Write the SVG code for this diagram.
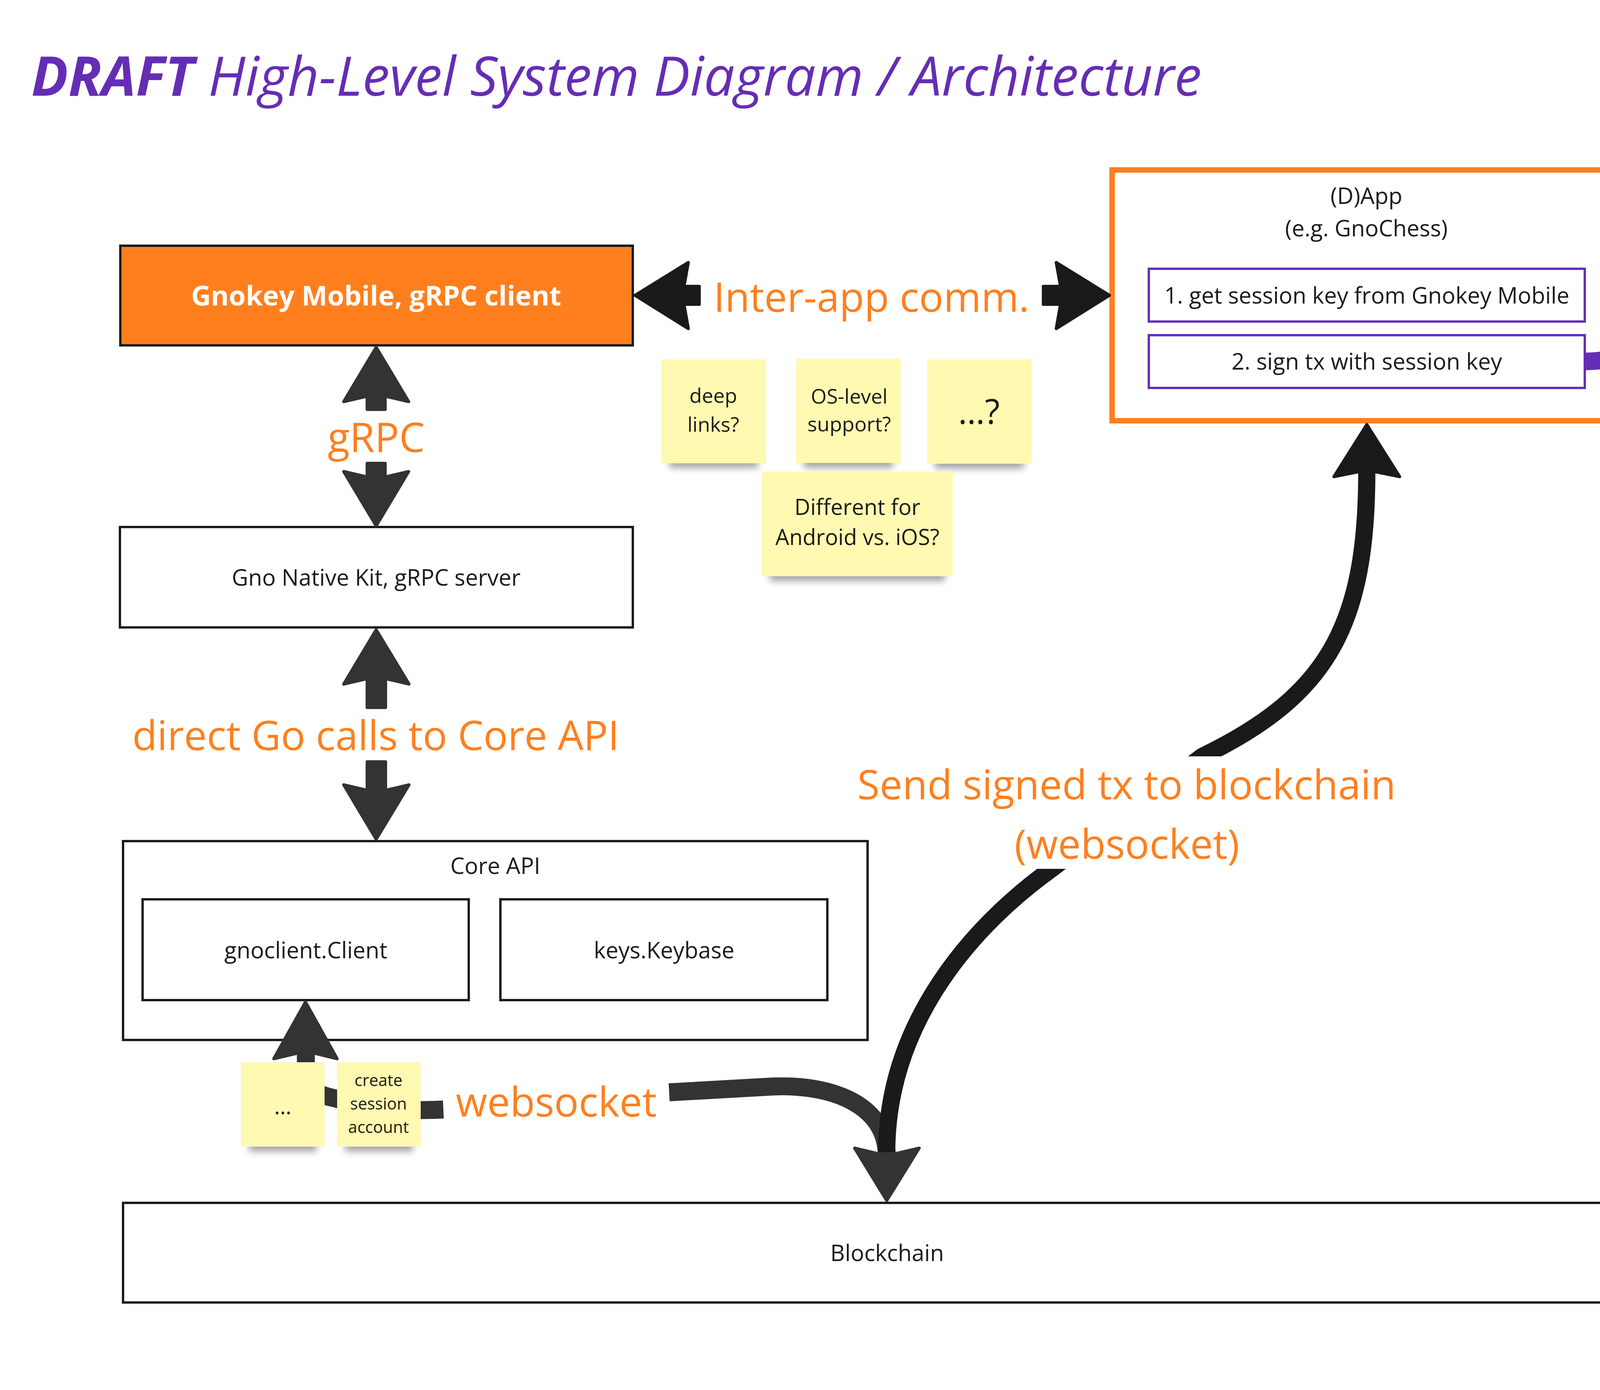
<svg xmlns="http://www.w3.org/2000/svg" width="4495" height="3558" viewBox="0 0 4495 3558">
<defs>
<style>
text{font-family:"Open Sans","Noto Sans","DejaVu Sans",sans-serif}
.box{fill:#ffffff;stroke:#1a1a1a;stroke-width:6}
.sub{fill:#ffffff;stroke:#6530b5;stroke-width:6}
.t{font-size:58px;fill:#1a1a1a;text-anchor:middle}
.lbl{font-size:104px;fill:#ff7f1e;text-anchor:middle}
.note{fill:#fff9b1}
.nt{fill:#1a1a1a;text-anchor:middle}
.n52{font-size:52px}
.n56{font-size:56px}
.n42{font-size:42px}
.n88{font-size:88px}
.shd{fill:#000000;opacity:0.35}
.head{stroke-linejoin:round;stroke-width:8}
.dk{fill:#333333;stroke:#333333}
.bk{fill:#1a1a1a;stroke:#1a1a1a}
</style>
<filter id="sh" x="-20%" y="-150%" width="140%" height="400%"><feGaussianBlur stdDeviation="9"/></filter>
</defs>
<rect x="0" y="0" width="4495" height="3558" fill="#ffffff"/>

<g id="title">
<text x="80" y="245" font-size="140" font-style="italic" fill="#652db4"><tspan font-weight="bold">DRAFT</tspan> High-Level System Diagram / Architecture</text>
</g>

<g id="gnokey-mobile">
<rect x="308" y="629" width="1312" height="255" fill="#ff7f1e" stroke="#1a1a1a" stroke-width="6"/>
<text x="963" y="782" font-size="70" font-weight="bold" fill="#ffffff" text-anchor="middle">Gnokey Mobile, gRPC client</text>
</g>

<g id="gno-native-kit">
<rect class="box" x="307" y="1349" width="1313" height="257"/>
<text class="t" x="963" y="1499">Gno Native Kit, gRPC server</text>
</g>

<g id="core-api">
<rect class="box" x="315" y="2153" width="1906" height="509"/>
<text class="t" x="1268" y="2237">Core API</text>
</g>
<g id="gnoclient">
<rect class="box" x="365" y="2302" width="835" height="258"/>
<text class="t" x="783" y="2453">gnoclient.Client</text>
</g>
<g id="keybase">
<rect class="box" x="1281" y="2302" width="837" height="258"/>
<text class="t" x="1700" y="2453">keys.Keybase</text>
</g>

<g id="blockchain">
<rect class="box" x="315" y="3079" width="3911" height="255"/>
<text class="t" x="2271" y="3228">Blockchain</text>
</g>

<g id="dapp">
<rect x="2847" y="435" width="1304" height="642" fill="none" stroke="#ff7f1e" stroke-width="14"/>
<text class="t" x="3498" y="522">(D)App</text>
<text class="t" x="3498" y="605">(e.g. GnoChess)</text>
</g>
<g id="dapp-step1">
<rect class="sub" x="2941" y="688" width="1116" height="135"/>
<text class="t" x="3499" y="777">1. get session key from Gnokey Mobile</text>
</g>
<g id="dapp-step2">
<rect class="sub" x="2941" y="858" width="1116" height="135"/>
<text class="t" x="3499" y="946">2. sign tx with session key</text>
</g>

<g id="connectors">
<!-- inter-app comm -->
<path class="head bk" d="M1626 756 L1762 672 L1751 733 L1790 733 L1790 779 L1751 779 L1762 841 Z"/>
<path class="head bk" d="M2840 756 L2704 672 L2715 733 L2671 733 L2671 779 L2715 779 L2704 841 Z"/>
<!-- gRPC -->
<path class="head dk" d="M963 889 L1046 1028 L986 1014 L986 1048 L940 1048 L940 1014 L880 1028 Z"/>
<path class="head dk" d="M963 1346 L1046 1207 L986 1221 L986 1186 L940 1186 L940 1221 L880 1207 Z"/>
<!-- direct Go calls -->
<path class="head dk" d="M963 1612 L1047 1751 L987 1737 L987 1811 L940 1811 L940 1737 L880 1751 Z"/>
<path class="head dk" d="M963 2148 L1047 2009 L987 2023 L987 1950 L940 1950 L940 2023 L880 2009 Z"/>
<!-- websocket (gnoclient to blockchain) -->
<path d="M783 2694 L783 2740 C783 2790 805 2800 860 2812 C930 2836 1000 2846 1135 2840" fill="none" stroke="#333333" stroke-width="46"/>
<path d="M1713 2796 L1980 2781 C2150 2775 2268 2840 2270 2955" fill="none" stroke="#333333" stroke-width="46"/>
<!-- send signed tx -->
<path d="M3499 1205 C3499 1600 3400 1780 3078 1936 L2692 2224 C2450 2400 2270 2650 2270 2950" fill="none" stroke="#1a1a1a" stroke-width="44"/>
<path class="head bk" d="M3499 1087 L3583 1220 L3523 1208 L3475 1208 L3415 1220 Z"/>
<path class="head dk" d="M782 2565 L863 2710 L806 2696 L760 2696 L701 2710 Z"/>
<path class="head dk" d="M2270 3073 L2353 2939 L2293 2953 L2247 2953 L2188 2939 Z"/>
<!-- purple link -->
<path d="M4058 925 C4250 925 4360 790 4510 450" fill="none" stroke="#652db4" stroke-width="45"/>
</g>

<g id="label-inter-app">
<text class="lbl" x="2231" y="798">Inter-app comm.</text>
</g>
<g id="label-grpc">
<text class="lbl" x="963" y="1157">gRPC</text>
</g>
<g id="label-direct">
<text class="lbl" x="962" y="1920">direct Go calls to Core API</text>
</g>
<g id="label-websocket">
<text class="lbl" x="1424" y="2858">websocket</text>
</g>
<g id="label-send">
<rect x="2170" y="1936" width="1430" height="134" fill="#ffffff"/>
<rect x="2580" y="2070" width="610" height="154" fill="#ffffff"/>
<text class="lbl" x="2884" y="2046">Send signed tx to blockchain</text>
<text class="lbl" x="2885" y="2198">(websocket)</text>
</g>

<g id="note-deep-links">
<rect class="shd" x="1713" y="1160" width="228" height="38" filter="url(#sh)"/>
<rect class="note" x="1693" y="920" width="268" height="266"/>
<text class="nt n52" x="1826" y="1031">deep</text>
<text class="nt n52" x="1826" y="1105">links?</text>
</g>
<g id="note-os-level">
<rect class="shd" x="2058" y="1160" width="228" height="38" filter="url(#sh)"/>
<rect class="note" x="2038" y="918" width="268" height="267"/>
<text class="nt n52" x="2174" y="1033">OS-level</text>
<text class="nt n52" x="2174" y="1104">support?</text>
</g>
<g id="note-etc">
<rect class="shd" x="2393" y="1162" width="228" height="38" filter="url(#sh)"/>
<rect class="note" x="2373" y="920" width="268" height="267"/>
<text class="nt n88" x="2506" y="1085">…?</text>
</g>
<g id="note-different">
<rect class="shd" x="1971" y="1450" width="448" height="38" filter="url(#sh)"/>
<rect class="note" x="1951" y="1207" width="488" height="268"/>
<text class="nt n56" x="2195" y="1318">Different for</text>
<text class="nt n56" x="2195" y="1395">Android vs. iOS?</text>
</g>
<g id="note-dots">
<rect class="shd" x="637" y="2910" width="174" height="38" filter="url(#sh)"/>
<rect class="note" x="617" y="2719" width="214" height="216"/>
<text class="nt n56" x="724" y="2852">...</text>
</g>
<g id="note-create-session">
<rect class="shd" x="883" y="2910" width="174" height="38" filter="url(#sh)"/>
<rect class="note" x="863" y="2719" width="214" height="216"/>
<text class="nt n42" x="969" y="2780">create</text>
<text class="nt n42" x="969" y="2840">session</text>
<text class="nt n42" x="969" y="2900">account</text>
</g>
</svg>
